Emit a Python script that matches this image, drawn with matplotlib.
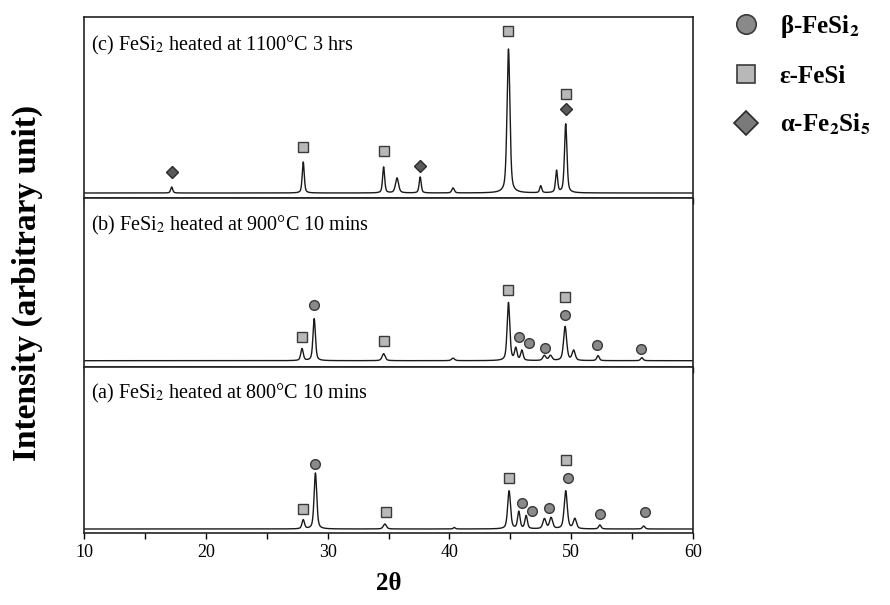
import numpy as np
import matplotlib
matplotlib.use("Agg")
import matplotlib.pyplot as plt
from matplotlib.lines import Line2D
from matplotlib.ticker import MultipleLocator

# ---------------- data ----------------
# peaks: 2theta centre, height (arb.), half width
PEAKS_C = [(17.2, 6, 0.10), (28.0, 31, 0.10), (34.6, 26, 0.10), (35.7, 15, 0.15),
           (37.6, 16, 0.10), (40.3, 5, 0.12), (44.85, 144, 0.14), (47.5, 7, 0.10),
           (48.8, 22, 0.10), (49.55, 69, 0.12)]
PEAKS_B = [(27.9, 12, 0.12), (28.9, 42, 0.12), (34.6, 7, 0.15), (40.3, 2.5, 0.15),
           (44.85, 58, 0.13), (45.45, 12, 0.12), (45.95, 10, 0.12), (47.8, 5, 0.15),
           (48.3, 5, 0.15), (49.5, 34, 0.15), (50.2, 10, 0.15), (52.2, 5, 0.12),
           (55.8, 3, 0.12)]
PEAKS_A = [(28.0, 9, 0.12), (29.0, 56, 0.13), (34.7, 5, 0.15), (40.4, 1.5, 0.10),
           (44.9, 38, 0.14), (45.7, 17, 0.12), (46.3, 13, 0.12), (47.8, 10, 0.15),
           (48.35, 11, 0.15), (49.55, 38, 0.15), (50.3, 10, 0.15), (52.35, 4, 0.12),
           (55.95, 3, 0.12)]

# phase markers: (2theta, height)
BETA_B = [(28.9, 56), (45.7, 24), (46.5, 18), (47.85, 13), (49.5, 46), (52.1, 16), (55.7, 12)]
EPS_B = [(27.9, 24), (34.6, 20), (44.85, 71), (49.5, 64)]
BETA_A = [(29.0, 65), (45.95, 26), (46.8, 18), (48.2, 21), (49.7, 51), (52.4, 15), (56.1, 17)]
EPS_A = [(28.0, 20), (34.8, 17), (44.9, 51), (49.55, 69)]
EPS_C = [(28.0, 46), (34.6, 42), (44.85, 162), (49.55, 99)]
ALPHA_C = [(17.2, 21), (37.6, 27), (49.55, 84)]

LABELS = ["(c) FeSi$_2$ heated at 1100\u00b0C 3 hrs",
          "(b) FeSi$_2$ heated at 900\u00b0C 10 mins",
          "(a) FeSi$_2$ heated at 800\u00b0C 10 mins"]

# ---------------- style ----------------
plt.rcParams["font.family"] = ["Liberation Serif", "DejaVu Serif"]
plt.rcParams["mathtext.fontset"] = "stix"

BETA_STYLE = dict(marker="o", markerfacecolor="#8a8a8a", markeredgecolor="#3a3a3a")
EPS_STYLE = dict(marker="s", markerfacecolor="#b8b8b8", markeredgecolor="#3a3a3a")
ALPHA_STYLE = dict(marker="D", markerfacecolor="#5a5a5a", markeredgecolor="#2a2a2a")


def profile(x, peaks):
    y = np.zeros_like(x)
    for c, h, w in peaks:
        lor = 1.0 / (1.0 + ((x - c) / w) ** 2)
        gau = np.exp(-np.log(2) * ((x - c) / w) ** 2)
        y += h * (0.5 * lor + 0.5 * gau)
    return y


def draw_markers(ax, pts, style, ms):
    if not pts:
        return
    xs, ys = zip(*pts)
    ax.plot(xs, ys, linestyle="none", markersize=ms, markeredgewidth=1.0,
            zorder=3, **style)


fig = plt.figure(figsize=(8.9, 6.05), dpi=100)
left, width = 84 / 890, 609 / 890
# (top px, bottom px, ylim, ...)
PANELS = [
    (17, 198, (-5, 176), PEAKS_C, [], EPS_C, ALPHA_C),
    (198, 367, (-6.3, 162.7), PEAKS_B, BETA_B, EPS_B, []),
    (367, 533, (-4, 162), PEAKS_A, BETA_A, EPS_A, []),
]

x = np.linspace(10, 60, 5001)
axes = []
for i, (top, bot, ylim, peaks, beta, eps, alpha) in enumerate(PANELS):
    ax = fig.add_axes([left, 1 - bot / 605, width, (bot - top) / 605])
    ax.plot(x, profile(x, peaks), color="#1a1a1a", linewidth=1.0)
    draw_markers(ax, beta, BETA_STYLE, 7.0)
    draw_markers(ax, eps, EPS_STYLE, 6.8)
    draw_markers(ax, alpha, ALPHA_STYLE, 6.2)
    ax.set_xlim(10, 60)
    ax.set_ylim(*ylim)
    ax.set_yticks([])
    ax.xaxis.set_major_locator(MultipleLocator(10))
    ax.xaxis.set_minor_locator(MultipleLocator(5))
    ax.tick_params(axis="x", which="both", direction="out", length=4, width=1,
                   labelsize=13, pad=4)
    if i < 2:
        ax.tick_params(axis="x", labelbottom=False)
    for sp in ax.spines.values():
        sp.set_linewidth(1.2)
        sp.set_color("#222222")
    ax.text(0.012, 0.84, LABELS[i], transform=ax.transAxes, fontsize=14.5,
            va="center", ha="left")
    axes.append(ax)

axes[-1].set_xlabel("2\u03b8", fontsize=18, fontweight="bold", labelpad=8)
fig.text(0.031, (1 - 283 / 605), "Intensity (arbitrary unit)", rotation=90,
         fontsize=24, fontweight="bold", va="center", ha="center")

handles = [
    Line2D([], [], linestyle="none", markersize=14, markeredgewidth=1.2, **BETA_STYLE),
    Line2D([], [], linestyle="none", markersize=13, markeredgewidth=1.2, **EPS_STYLE),
    Line2D([], [], linestyle="none", markersize=12, markeredgewidth=1.2,
           marker="D", markerfacecolor="#7a7a7a", markeredgecolor="#2a2a2a"),
]
names = ["\u03b2-FeSi$_\\mathbf{2}$", "\u03b5-FeSi", "\u03b1-Fe$_\\mathbf{2}$Si$_\\mathbf{5}$"]
fig.legend(handles, names, loc="upper left", bbox_to_anchor=(0.793, 1.003),
           frameon=False, prop=dict(size=18, weight="bold"),
           handletextpad=0.35, labelspacing=0.98, borderaxespad=0.2)

fig.savefig("out.png", dpi=100)
